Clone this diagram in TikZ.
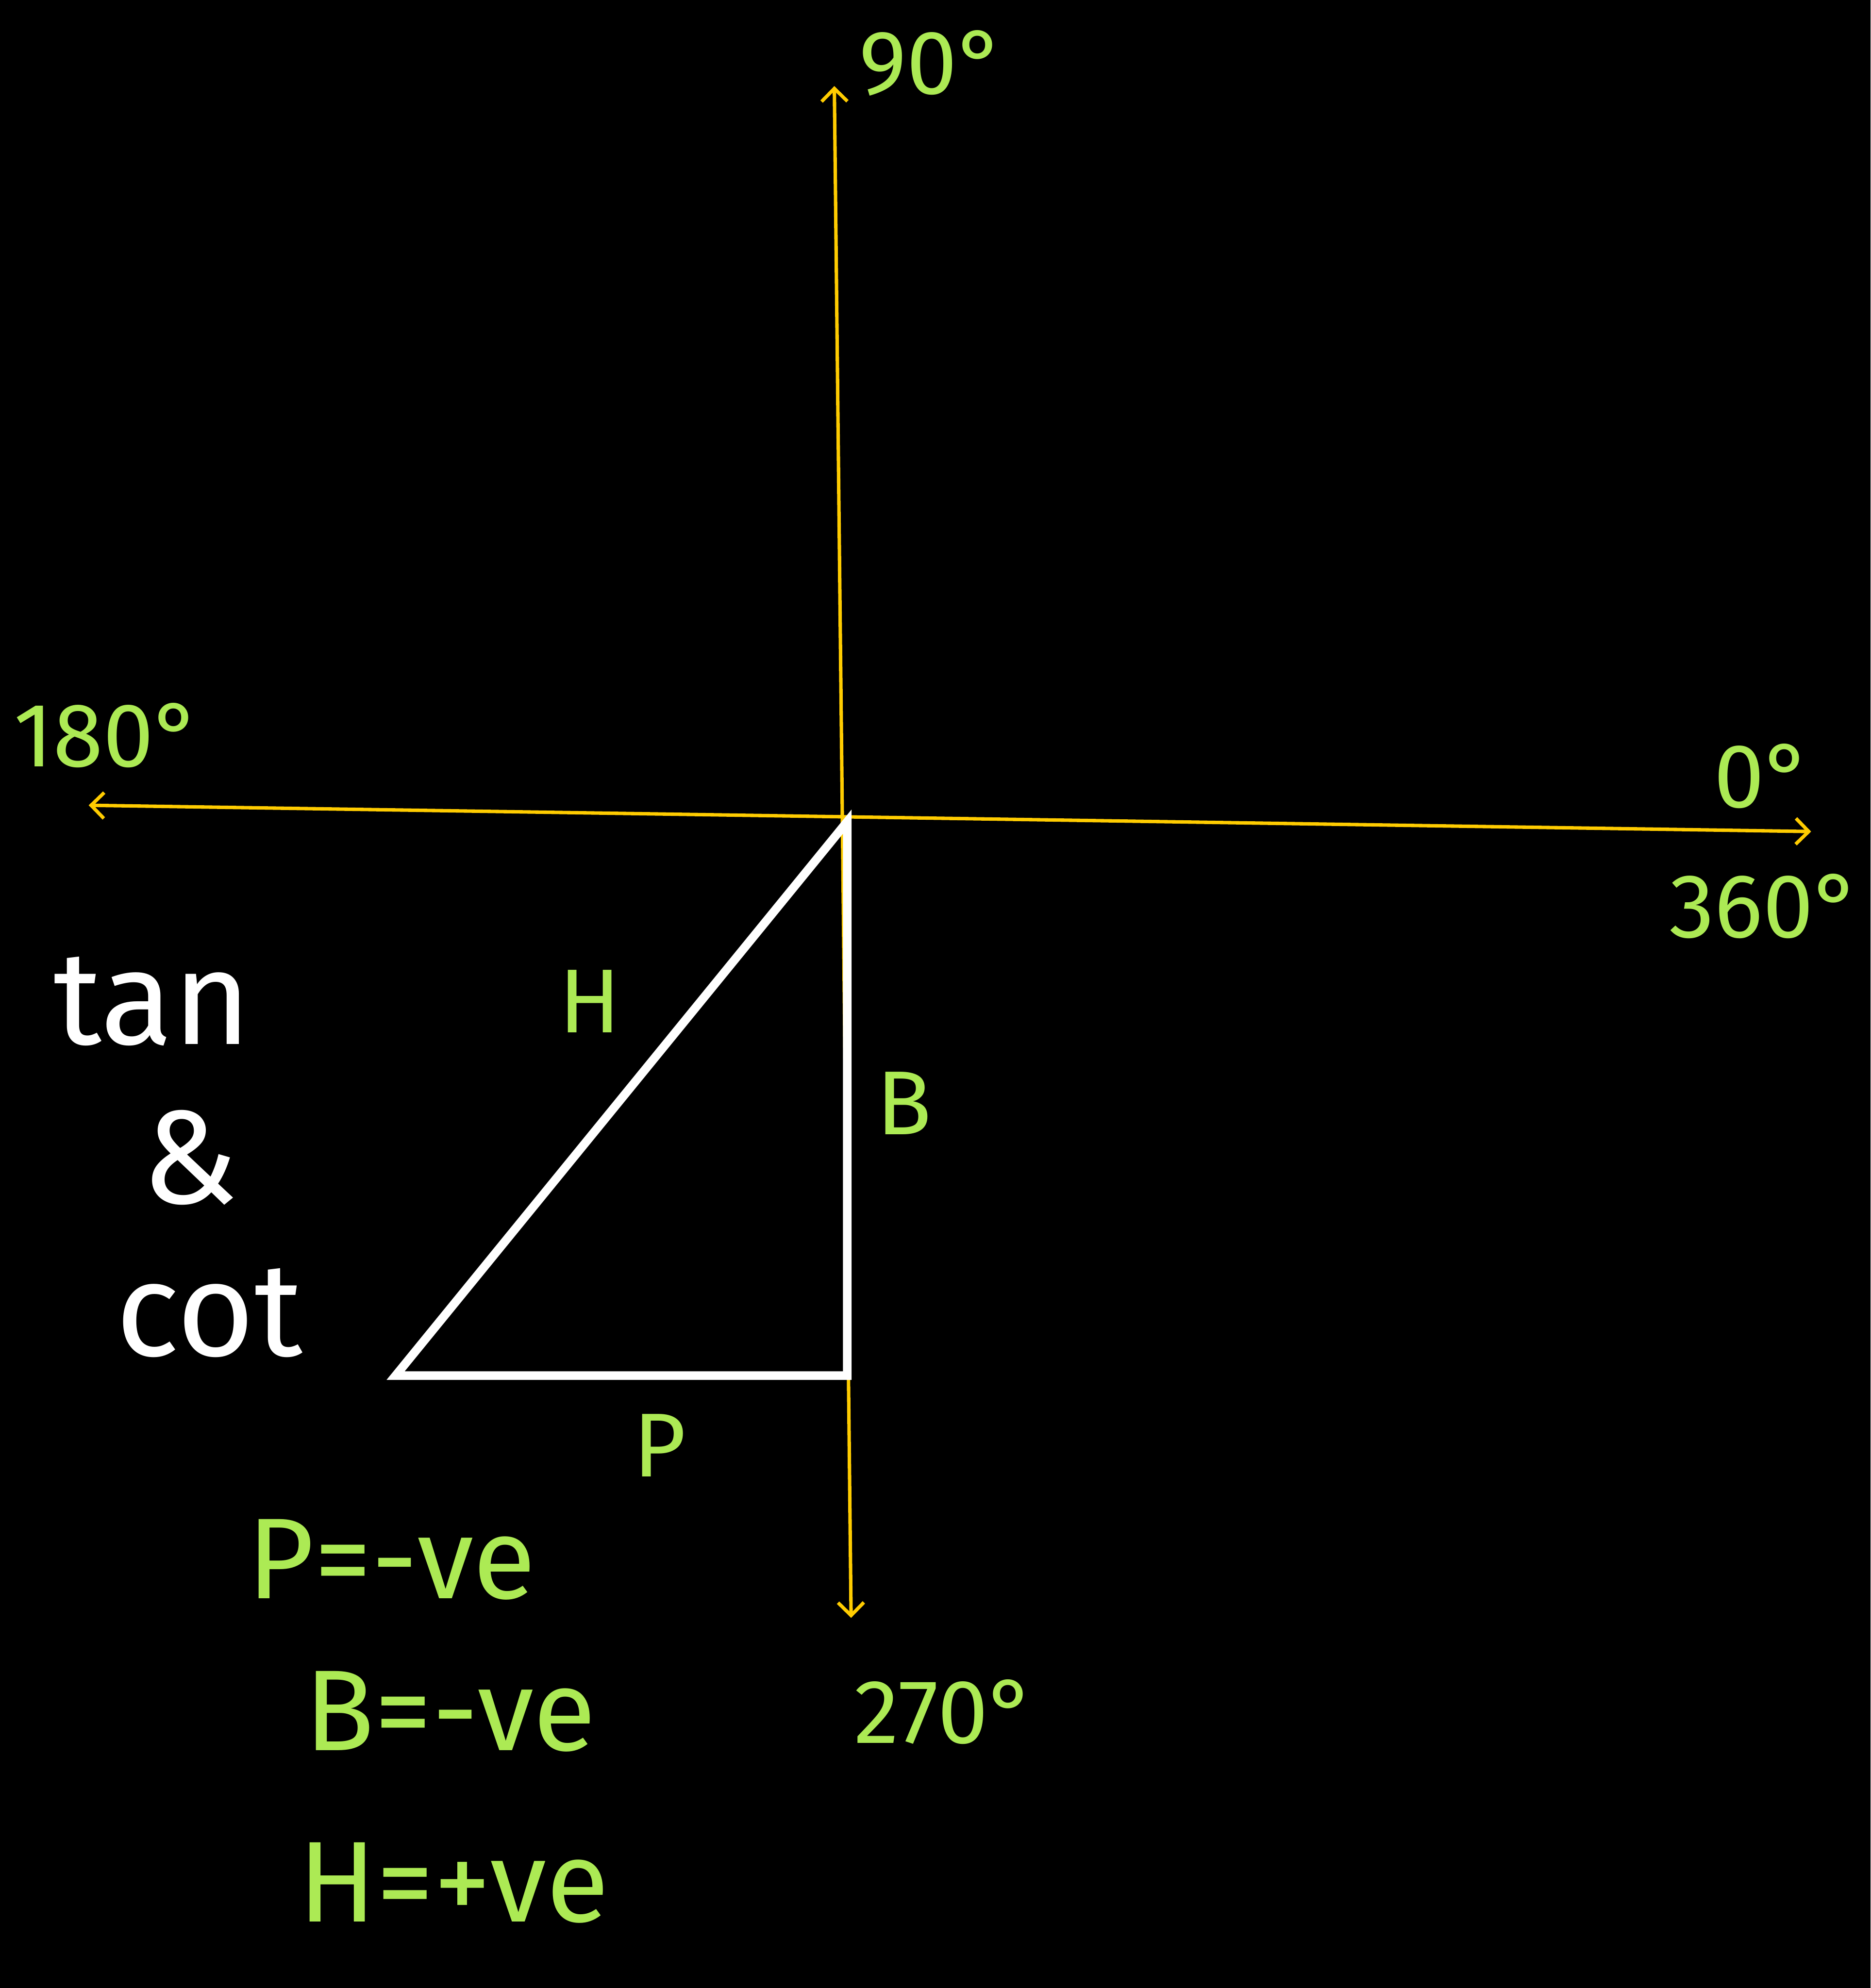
\documentclass[tikz,border=0pt]{standalone}
\usepackage{fontspec}
\setmainfont{Fira Sans}
\usetikzlibrary{arrows.meta,positioning}
\definecolor{axisyellow}{RGB}{255,204,0}
\definecolor{chalkgreen}{RGB}{172,234,84}

\begin{document}
\begin{tikzpicture}[
  ax/.style={{Straight Barb[length=0.3cm,width=0.6cm]}-{Straight Barb[length=0.3cm,width=0.6cm]},draw=axisyellow,line width=0.08cm},
  tri/.style={draw=white,line width=0.2cm,line join=miter},
  deg/.style={text=chalkgreen,font=\fontsize{60}{68}\selectfont,inner sep=0pt},
  side/.style={text=chalkgreen,font=\fontsize{60}{68}\selectfont,inner sep=0pt},
  sgn/.style={text=chalkgreen,font=\fontsize{76}{86}\selectfont,inner sep=0pt,anchor=west},
  note/.style={text=white,font=\fontsize{88}{96}\selectfont,inner sep=0pt}
]
  \fill[black] (0,0) rectangle (43.45,-46.19);
  \useasboundingbox (0,0) rectangle (43.45,-46.19);

  % axes
  \coordinate (up) at (19.38,-2.00);
  \coordinate (down) at (19.77,-37.59);
  \coordinate (left) at (2.06,-18.71);
  \coordinate (right) at (42.07,-19.32);
  \draw[ax] (left) -- (right);
  \draw[ax] (down) -- (up);

  % triangle
  \coordinate (o) at (19.68,-19.09);
  \coordinate (c) at (19.68,-31.96);
  \coordinate (a) at (9.19,-31.96);
  \draw[tri] (o) -- (c) -- (a) -- cycle;

  \node[deg] (n90) at (21.65,-1.47) {90°};
  \node[deg] (n180) at (2.50,-17.09) {180°};
  \node[deg] (n0) at (40.95,-18.03) {0°};
  \node[deg] (n360) at (41.00,-21.06) {360°};
  \node[deg] (n270) at (21.95,-39.77) {270°};

  \node[side] (lh) at (13.70,-23.27) {H};
  \node[side] (lb) at (21.00,-25.63) {B};
  \node[side] (lp) at (15.32,-33.58) {P};

  \node[note] (tan) at (3.54,-23.27) {tan};
  \node[note] (amp) at (4.42,-26.90) {\&};
  \node[note] (cot) at (4.86,-30.50) {cot};

  \node[sgn] (sp) at (5.74,-36.24) {P=-ve};
  \node[sgn] (sb) at (7.07,-39.77) {B=-ve};
  \node[sgn] (sh) at (6.92,-43.75) {H=+ve};
\end{tikzpicture}
\end{document}
